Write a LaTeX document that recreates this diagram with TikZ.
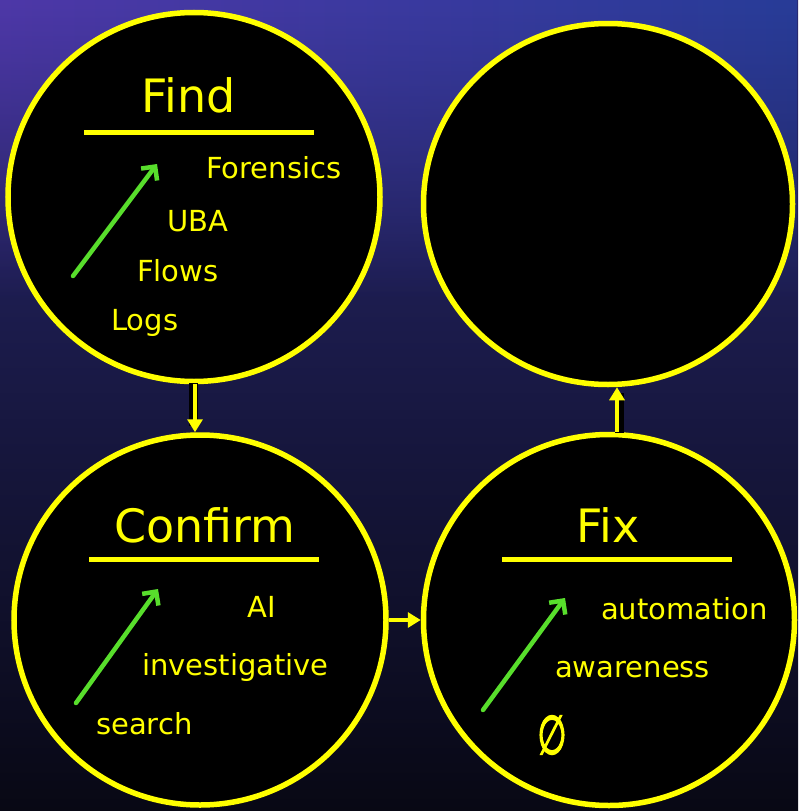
\documentclass[tikz,border=0pt]{standalone}
\usepackage{fontspec}
\setmainfont{DejaVu Sans}
\newfontfamily\boldnull[FakeBold=3]{DejaVu Sans}
\usetikzlibrary{shapes.geometric,arrows.meta,calc,fadings}
\definecolor{yel}{RGB}{255,255,0}
\definecolor{grn}{RGB}{88,222,44}
\definecolor{bgtop}{RGB}{40,40,112}
\definecolor{bgmid}{RGB}{22,20,52}
\definecolor{bgbot}{RGB}{8,8,20}
\definecolor{bgtl}{RGB}{78,56,168}
\definecolor{bgtm}{RGB}{44,40,118}
\definecolor{bgtr}{RGB}{40,60,152}
\begin{document}
\begin{tikzpicture}[x=1pt,y=-1pt,
 ring/.style={draw=yel,line width=5.5pt,fill=black,ellipse,inner sep=0pt},
 title/.style={text=yel,font=\fontsize{46}{50}\selectfont,anchor=base west,inner sep=0pt},
 item/.style={text=yel,font=\fontsize{29}{32}\selectfont,anchor=base west,inner sep=0pt},
 bar/.style={draw=yel,line width=5pt},
 upar/.style={draw=grn,line width=4.5pt,line cap=round,-{Straight Barb[length=10pt,width=20pt,line width=4.5pt]}},
 link/.style={draw=yel,line width=4.5pt,-{Triangle[length=13pt,width=15pt]}},
 shadow/.style={draw=black,line width=9pt},
]
% background
\shade[top color=bgtop,middle color=bgmid,bottom color=bgbot] (0,0) rectangle (798,811);
\shade[left color=bgtl,middle color=bgtm,right color=bgtr,path fading=south] (0,0) rectangle (798,300);
\useasboundingbox (0,0) rectangle (798,811);

% circles
\node[ring,minimum width=372pt,minimum height=369pt] (find) at (194,197) {};
\node[ring,minimum width=369pt,minimum height=361pt] (tr) at (608,204) {};
\node[ring,minimum width=372pt,minimum height=370pt] (confirm) at (200,620) {};
\node[ring,minimum width=371pt,minimum height=371pt] (fix) at (609,620) {};

% connectors
\coordinate (fa) at ($(find.south)+(1,0)$);
\draw[shadow] ($(fa)+(-2,-1)$) -- ($(fa |- confirm.north)+(-2,-6)$);
\draw[link] (fa) -- (fa |- confirm.north);
\coordinate (xa) at ($(fix.north)+(8,0)$);
\draw[shadow] ($(xa)+(2,1)$) -- ($(xa |- tr.south)+(2,6)$);
\draw[link] (xa) -- (xa |- tr.south);
\draw[link] (confirm.east) -- (fix.west);

% Find
\node[title] (t1) at (141,112) {Find};
\draw[bar] (84,132) -- (314,132);
\node[item] (f1) at (206,178) {Forensics};
\node[item] (f2) at (167,231) {UBA};
\node[item] (f3) at (137,281) {Flows};
\node[item] (f4) at (111,330) {Logs};
\draw[upar] (73,276) -- (157,164);

% Confirm
\node[title] (t2) at (114,542) {Confirm};
\draw[bar] (89,559) -- (319,559);
\node[item] (c1) at (247,617) {AI};
\node[item] (c2) at (142,675) {investigative};
\node[item] (c3) at (96,734) {search};
\draw[upar] (76,703) -- (158,589);

% Fix
\node[title] (t3) at (576,542) {Fix};
\draw[bar] (502,559) -- (732,559);
\node[item] (x1) at (601,619) {automation};
\node[item] (x2) at (555,677) {awareness};
\node[text=yel,font=\boldnull\fontsize{54}{58}\selectfont,inner sep=0pt] (x3) at (552,735) {\scalebox{0.62}[1]{∅}};
\draw[upar] (483,710) -- (565,598);
\end{tikzpicture}
\end{document}
